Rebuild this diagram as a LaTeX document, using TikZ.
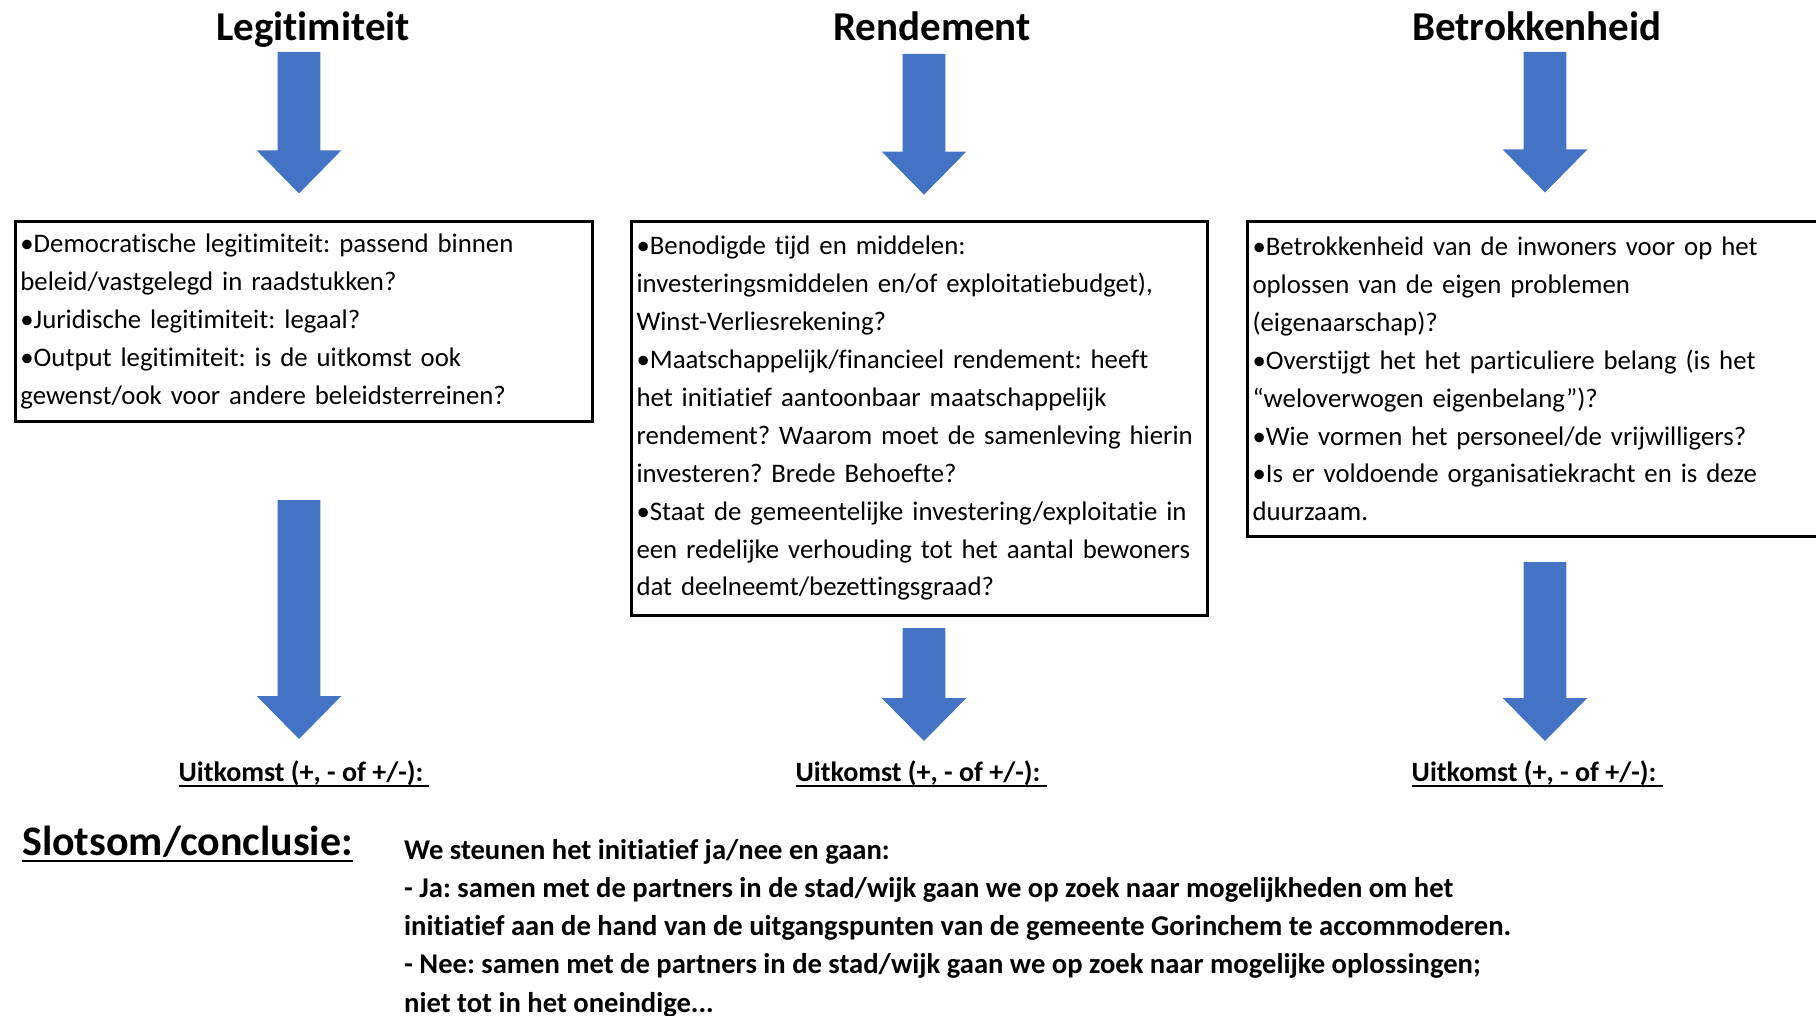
\documentclass[tikz,border=0pt]{standalone}
\usepackage{fontspec}
\setmainfont{Carlito}[RawFeature={-liga,-dlig,-clig}]
\usetikzlibrary{calc}
\definecolor{arrowblue}{RGB}{68,114,196}
\newcommand{\blockarrow}[2]{%
  \fill[arrowblue] let \p1=(#1), \p2=(#2) in
    (\x1-21.4pt,\y1) -- (\x1+21.4pt,\y1) -- (\x1+21.4pt,\y2+43pt) -- (\x1+42.3pt,\y2+43pt)
    -- (\x1,\y2) -- (\x1-42.3pt,\y2+43pt) -- (\x1-21.4pt,\y2+43pt) -- cycle;}
\tikzset{
  title/.style={font=\fontsize{41}{49}\selectfont\bfseries, inner sep=0pt, anchor=base},
  qbox/.style={draw=black, line width=3pt, anchor=north west, align=left,
    inner xsep=5pt, inner ysep=0pt, font=\fontsize{26.8}{37.9}\selectfont},
  outcome/.style={font=\fontsize{28}{34}\selectfont\bfseries, inner sep=0pt},
  uline/.style={line width=1.8pt},
}
\frenchspacing
\begin{document}
\frenchspacing
\begin{tikzpicture}[x=1pt,y=-1pt]
\useasboundingbox[fill=white] (0,0) rectangle (1816,1016);

% titles
\node[title] (t1) at (313,41) {Legitimiteit};
\node[title] (t2) at (932,41) {Rendement};
\node[title] (t3) at (1537,41) {Betrokkenheid};

% boxes
\node[qbox, text width=567pt, minimum height=200.4pt] (b1) at (13.9,220) {%
•Democratische legitimiteit: passend binnen\\
beleid/vastgelegd in raadstukken?\\
•Juridische legitimiteit: legaal?\\
•Output legitimiteit: is de uitkomst ook\\
gewenst/ook voor andere beleidsterreinen?};

\node[qbox, text width=566pt, minimum height=393.8pt] (b2) at (630,220) {%
•Benodigde tijd en middelen:\\
investeringsmiddelen en/of exploitatiebudget),\\
Winst-Verliesrekening?\\
•Maatschappelijk/financieel rendement: heeft\\
het initiatief aantoonbaar maatschappelijk\\
rendement? Waarom moet de samenleving hierin\\
investeren? Brede Behoefte?\\
•Staat de gemeentelijke investering/exploitatie in\\
een redelijke verhouding tot het aantal bewoners\\
dat deelneemt/bezettingsgraad?};

\node[qbox, text width=610pt, minimum height=315pt] (b3) at (1246,220) {%
•Betrokkenheid van de inwoners voor op het\\
oplossen van de eigen problemen\\
(eigenaarschap)?\\
•Overstijgt het het particuliere belang (is het\\
“weloverwogen eigenbelang”)?\\
•Wie vormen het personeel/de vrijwilligers?\\
•Is er voldoende organisatiekracht en is deze\\
duurzaam.};

% outcomes
\node[outcome] (u1) at (301,773.7) {Uitkomst (+, - of +/-):};
\node[outcome] (u2) at (918,773.7) {Uitkomst (+, - of +/-):};
\node[outcome] (u3) at (1534,773.7) {Uitkomst (+, - of +/-):};
\foreach \u in {u1,u2,u3}{
  \draw[uline] ([yshift=-4pt]\u.base west) -- ([xshift=6pt,yshift=-4pt]\u.base east);
}

% arrow end points
\coordinate (a1s) at (299,52);  \coordinate (a1e) at (299,193.4);
\coordinate (a2s) at (924,54);  \coordinate (a2e) at (924,194.6);
\coordinate (a3s) at (1545,52); \coordinate (a3e) at (1545,192.5);
\coordinate (c1s) at (299,500); \coordinate (c1e) at (299,739);
\coordinate (c2s) at (924,628); \coordinate (c2e) at (924,741);
\coordinate (c3s) at (1545,562);\coordinate (c3e) at (1545,741);
\blockarrow{a1s}{a1e}
\blockarrow{a2s}{a2e}
\blockarrow{a3s}{a3e}
\blockarrow{c1s}{c1e}
\blockarrow{c2s}{c2e}
\blockarrow{c3s}{c3e}

% conclusion
\node[font=\fontsize{42}{50}\selectfont\bfseries, inner sep=0pt, anchor=west] (s) at (22,842) {Slotsom/conclusie:};
\draw[line width=2.2pt] ([yshift=-5pt]s.base west) -- ([yshift=-5pt]s.base east);

\node[font=\fontsize{28.6}{38.2}\selectfont\bfseries, inner sep=0pt, anchor=north west, align=left] (c) at (404,839) {%
We steunen het initiatief ja/nee en gaan:\\
- Ja: samen met de partners in de stad/wijk gaan we op zoek naar mogelijkheden om het\\
initiatief aan de hand van de uitgangspunten van de gemeente Gorinchem te accommoderen.\\
- Nee: samen met de partners in de stad/wijk gaan we op zoek naar mogelijke oplossingen;\\
niet tot in het oneindige...};
\end{tikzpicture}
\end{document}
